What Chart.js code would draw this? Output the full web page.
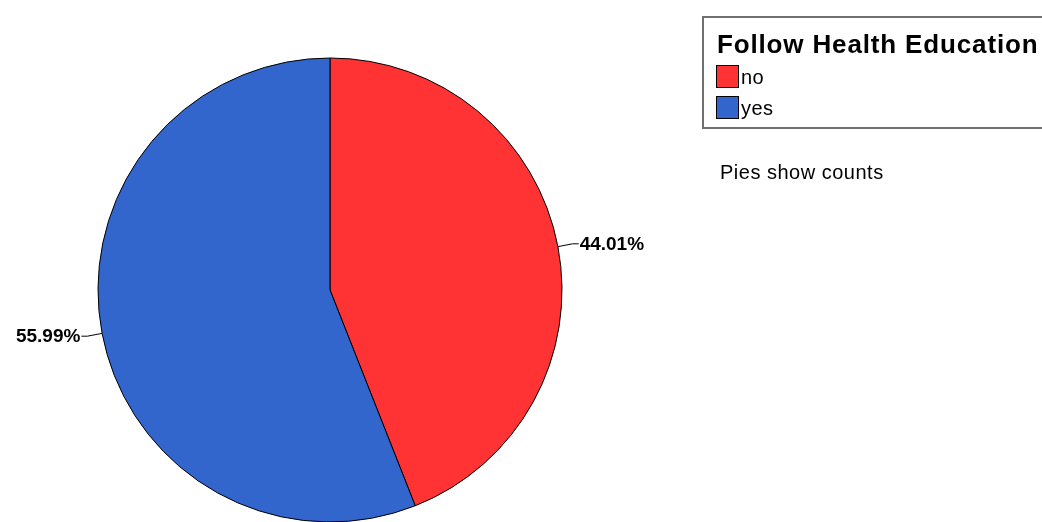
<!DOCTYPE html>
<html>
<head>
<meta charset="utf-8">
<script src="https://cdn.jsdelivr.net/npm/chart.js@4.4.0/dist/chart.umd.min.js"></script>
<style>
  html, body { margin: 0; padding: 0; background: #fff; }
  #wrap { width: 1042px; height: 522px; position: relative; }
</style>
</head>
<body>
<div id="wrap"><canvas id="pieChart" width="1042" height="522"></canvas></div>
<script>
// data
const categories = ['no', 'yes'];
const counts = [147, 187];
const legendTitle = 'Follow Health Education';
const footNote = 'Pies show counts';
const sliceColors = ['#FF3333', '#3366CC'];

const total = counts.reduce((a, b) => a + b, 0);

// percent labels with leader lines
const pctLabels = {
    id: 'pctLabels',
    afterDatasetsDraw(chart) {
        const ctx = chart.ctx;
        const arcs = chart.getDatasetMeta(0).data;
        ctx.save();
        ctx.font = 'bold 19px "Liberation Sans", Arial, sans-serif';
        ctx.textBaseline = 'middle';
        ctx.strokeStyle = '#000';
        ctx.lineWidth = 1;
        ctx.fillStyle = '#000';
        arcs.forEach((arc, i) => {
            const mid = (arc.startAngle + arc.endAngle) / 2;
            const r = arc.outerRadius;
            const x0 = arc.x + Math.cos(mid) * r;
            const y0 = arc.y + Math.sin(mid) * r;
            const x1 = arc.x + Math.cos(mid) * (r + 15);
            const y1 = arc.y + Math.sin(mid) * (r + 15);
            const right = Math.cos(mid) >= 0;
            const x2 = x1 + (right ? 6 : -6);
            ctx.beginPath();
            ctx.moveTo(x0, y0);
            ctx.lineTo(x1, y1);
            ctx.lineTo(x2, y1);
            ctx.stroke();
            const txt = (counts[i] / total * 100).toFixed(2) + '%';
            ctx.textAlign = right ? 'left' : 'right';
            ctx.fillText(txt, x2 + (right ? 1 : -1), y1 + 1);
        });
        ctx.restore();
    }
};

// legend box and note at right
const sideLegend = {
    id: 'sideLegend',
    afterDraw(chart) {
        const ctx = chart.ctx;
        ctx.save();
        ctx.strokeStyle = '#707070';
        ctx.lineWidth = 2;
        ctx.strokeRect(703, 17, 360, 111);
        ctx.fillStyle = '#000';
        ctx.textAlign = 'left';
        ctx.textBaseline = 'alphabetic';
        ctx.font = 'bold 26px "Liberation Sans", Arial, sans-serif';
        ctx.letterSpacing = '0.85px';
        ctx.fillText(legendTitle, 717, 53);
        ctx.font = '20px "Liberation Sans", Arial, sans-serif';
        ctx.letterSpacing = '0.5px';
        categories.forEach((c, i) => {
            const y = 65 + i * 31;
            ctx.fillStyle = sliceColors[i];
            ctx.fillRect(716.5, y + 0.5, 22, 22);
            ctx.strokeStyle = '#000';
            ctx.lineWidth = 1;
            ctx.strokeRect(716.5, y + 0.5, 22, 22);
            ctx.fillStyle = '#000';
            ctx.fillText(c, 741, y + 19);
        });
        ctx.fillStyle = '#000';
        ctx.fillText(footNote, 720, 179);
        ctx.restore();
    }
};

new Chart(document.getElementById('pieChart').getContext('2d'), {
    type: 'pie',
    data: {
        labels: categories,
        datasets: [{
            data: counts,
            backgroundColor: sliceColors,
            borderColor: '#000',
            borderWidth: 1
        }]
    },
    options: {
        responsive: false,
        animation: false,
        radius: 232,
        layout: { padding: { left: 98, top: 58, right: 480, bottom: 0 } },
        plugins: {
            legend: { display: false },
            tooltip: { enabled: false },
            title: { display: false }
        }
    },
    plugins: [pctLabels, sideLegend]
});
</script>
</body>
</html>
